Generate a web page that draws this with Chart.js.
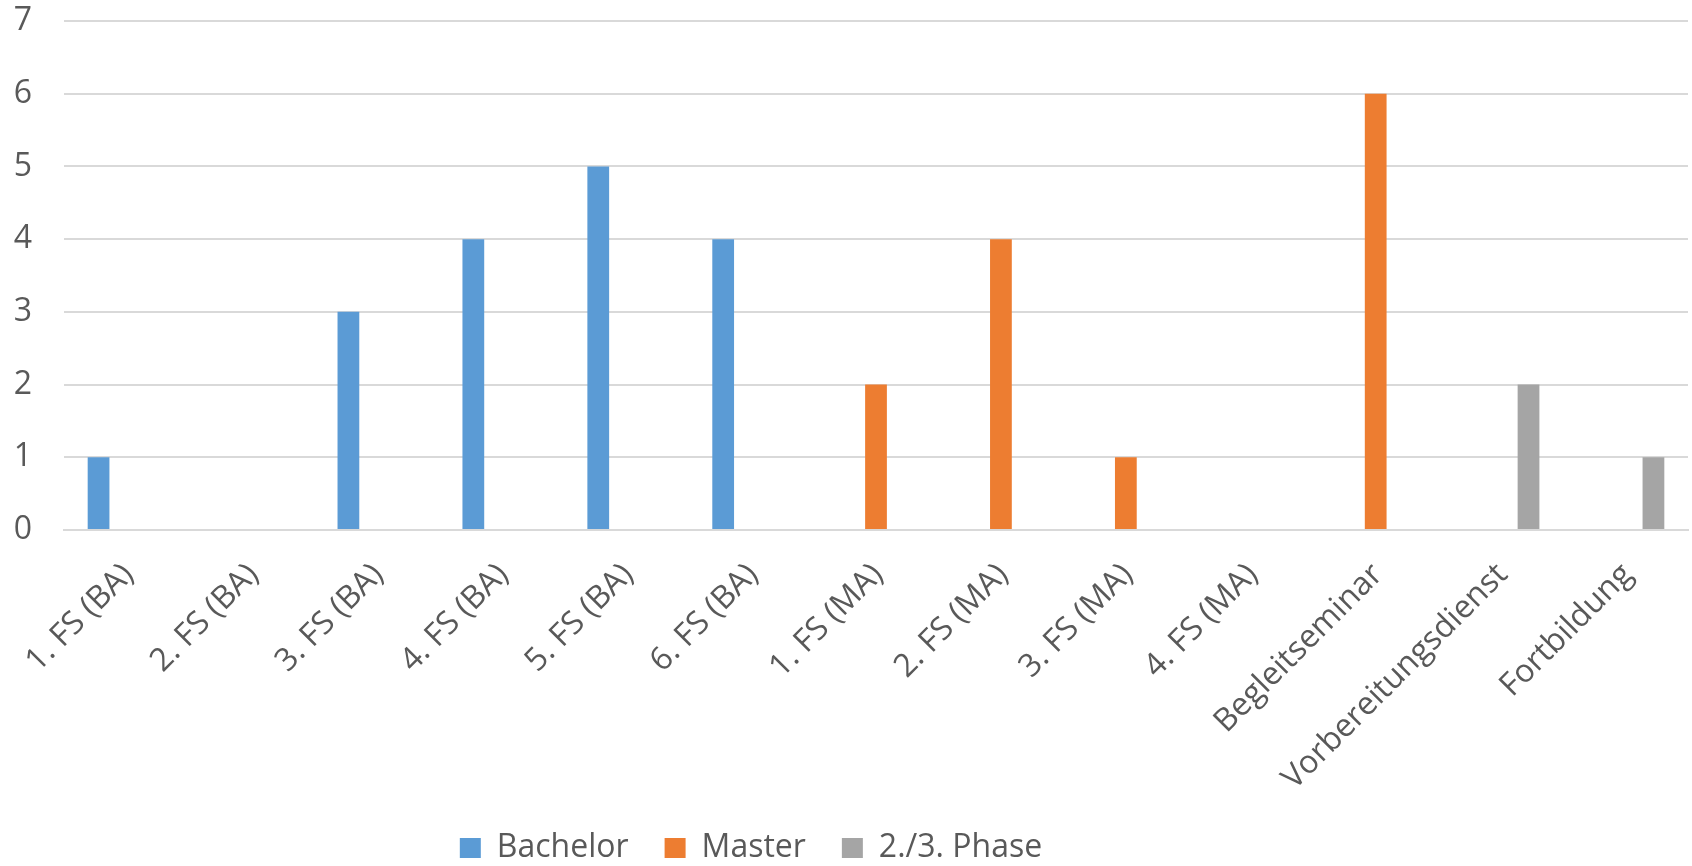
<!DOCTYPE html>
<html>
<head>
<meta charset="utf-8">
<script src="https://cdn.jsdelivr.net/npm/chart.js@4/dist/chart.umd.min.js"></script>
<style>
  html, body { margin: 0; padding: 0; background: #fff; }
  #wrap { width: 1692px; height: 866px; }
</style>
</head>
<body>
<div id="wrap"><canvas id="bars"></canvas></div>
<script>
// categories and values
let categories = ['1. FS (BA)', '2. FS (BA)', '3. FS (BA)', '4. FS (BA)', '5. FS (BA)', '6. FS (BA)',
    '1. FS (MA)', '2. FS (MA)', '3. FS (MA)', '4. FS (MA)', 'Begleitseminar', 'Vorbereitungsdienst', 'Fortbildung']
let bachelor = [1, 0, 3, 4, 5, 4, 0, 0, 0, 0, 0, 0, 0]
let master   = [0, 0, 0, 0, 0, 0, 2, 4, 1, 0, 6, 0, 0]
let phase    = [0, 0, 0, 0, 0, 0, 0, 0, 0, 0, 0, 2, 1]
let seriesNames = ['Bachelor', 'Master', '2./3. Phase']
let yTicks = [0, 1, 2, 3, 4, 5, 6, 7]

let textColor = '#595959'
let fontFamily = '"Open Sans", "Liberation Sans", sans-serif'

// legend is kept short so it sits close to the bottom edge, and a bit left of centre
let legendPlace = {
    id: 'legendPlace',
    afterInit: function (chart) {
        let fit = chart.legend.fit
        chart.legend.fit = function () {
            fit.call(this)
            this.height = 70
        }
    },
    afterLayout: function (chart) {
        chart.legend.left -= 93
        chart.legend.right -= 93
    }
}

let ctx = document.querySelector('#bars').getContext('2d')

let chart = new Chart(ctx, {
    type: 'bar',
    data: {
        labels: categories,
        datasets: [
            { label: seriesNames[0], data: bachelor, backgroundColor: '#5B9BD5' },
            { label: seriesNames[1], data: master, backgroundColor: '#ED7D31' },
            { label: seriesNames[2], data: phase, backgroundColor: '#A5A5A5' }
        ]
    },
    plugins: [legendPlace],
    options: {
        responsive: true,
        maintainAspectRatio: false,
        animation: false,
        layout: { padding: { top: 21, right: 4, left: 0, bottom: 0 } },
        datasets: {
            bar: { categoryPercentage: 0.67, barPercentage: 0.78, borderWidth: 0 }
        },
        scales: {
            x: {
                grid: { display: false },
                border: { display: true, color: '#d9d9d9', width: 2 },
                ticks: {
                    color: textColor,
                    font: { family: fontFamily, size: 32 },
                    maxRotation: 45, minRotation: 45,
                    autoSkip: false,
                    padding: 18,
                    labelOffset: 2
                },
                afterFit: function (scale) {
                    scale.height = 266
                    scale.paddingLeft = 0
                    scale.paddingRight = 0
                }
            },
            y: {
                min: 0, max: 7,
                afterBuildTicks: function (scale) {
                    scale.ticks = yTicks.map(function (v) { return { value: v } })
                },
                grid: { color: '#d9d9d9', lineWidth: 2, drawTicks: false },
                border: { display: false },
                ticks: {
                    color: textColor,
                    font: { family: fontFamily, size: 32 },
                    padding: 32
                },
                afterFit: function (scale) {
                    scale.width = 64
                    scale.paddingTop = 0
                    scale.paddingBottom = 0
                }
            }
        },
        plugins: {
            legend: {
                position: 'bottom',
                labels: {
                    color: textColor,
                    font: { family: fontFamily, size: 32 },
                    boxWidth: 21, boxHeight: 20,
                    padding: 36
                }
            },
            tooltip: { enabled: false }
        }
    }
})
</script>
</body>
</html>
